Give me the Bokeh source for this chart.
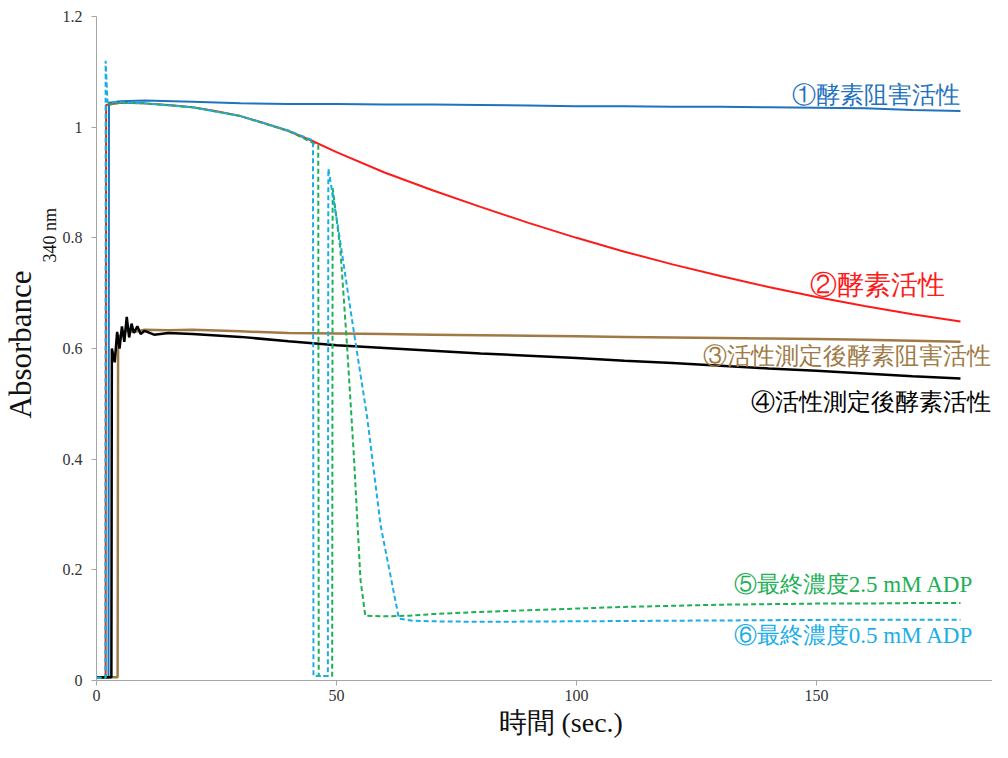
from bokeh.plotting import figure
from bokeh.models import Label, Range1d, FixedTicker, Title
from bokeh.embed import file_html
from bokeh.resources import INLINE

# ---------------- data ----------------
x_ticks = [0, 50, 100, 150]
y_ticks = [0, 0.2, 0.4, 0.6, 0.8, 1.0, 1.2]
y_tick_labels = ["0", "0.2", "0.4", "0.6", "0.8", "1", "1.2"]

# (1) enzyme inhibition activity
t1 = [0, 2.5, 2.6, 5, 10, 20, 30, 40, 50, 60, 70, 80, 90, 100, 110, 120, 130, 140, 150, 160, 170, 180]
a1 = [0.005, 0.005, 1.044, 1.047, 1.048, 1.046, 1.043, 1.042, 1.042, 1.041, 1.041, 1.040, 1.039,
      1.038, 1.038, 1.037, 1.037, 1.036, 1.035, 1.034, 1.031, 1.029]

# (2) enzyme activity
t2 = [0, 1.9, 2.0, 5, 10, 15, 20, 25, 30, 35, 40, 45, 50, 60, 70, 80, 90, 100, 110, 120, 130,
      140, 150, 160, 170, 180]
a2 = [0.005, 0.005, 1.040, 1.044, 1.043, 1.040, 1.036, 1.029, 1.020, 1.007, 0.993, 0.975, 0.955,
      0.918, 0.886, 0.856, 0.827, 0.800, 0.775, 0.752, 0.731, 0.711, 0.693, 0.677, 0.662, 0.649]

# (3) inhibition activity after measurement
t3 = [0, 4.4, 4.5, 6, 8, 10, 15, 20, 30, 40, 50, 60, 70, 80, 90, 100, 110, 120, 130, 140, 150,
      160, 170, 180]
a3 = [0.006, 0.006, 0.620, 0.632, 0.630, 0.634, 0.633, 0.634, 0.631, 0.628, 0.627, 0.626, 0.625,
      0.624, 0.623, 0.622, 0.621, 0.620, 0.619, 0.618, 0.617, 0.616, 0.614, 0.612]

# (4) enzyme activity after measurement
t4 = [0, 3.1, 3.2, 3.8, 4.3, 4.8, 5.3, 5.8, 6.3, 6.8, 7.3, 7.8, 8.5, 9.2, 10, 12, 15, 20, 30, 40,
      50, 60, 70, 80, 90, 100, 110, 120, 130, 140, 150, 160, 170, 180]
a4 = [0.006, 0.006, 0.600, 0.575, 0.630, 0.600, 0.640, 0.612, 0.657, 0.620, 0.645, 0.628, 0.640,
      0.626, 0.632, 0.625, 0.628, 0.626, 0.621, 0.613, 0.606, 0.601, 0.596, 0.591, 0.587, 0.583,
      0.578, 0.574, 0.569, 0.564, 0.560, 0.555, 0.550, 0.546]

# (5) final concentration 2.5 mM ADP
t5 = [0, 1.9, 2.0, 5, 10, 20, 30, 40, 46.2, 46.3, 49.1, 49.2, 50.8, 52.2, 53.6, 55.0, 56.0, 60,
      65, 70, 80, 90, 100, 110, 120, 130, 140, 150, 160, 170, 180]
a5 = [0.005, 0.005, 1.040, 1.044, 1.043, 1.036, 1.020, 0.993, 0.967, 0.008, 0.008, 0.890, 0.780,
      0.605, 0.409, 0.182, 0.117, 0.116, 0.117, 0.120, 0.124, 0.127, 0.130, 0.133, 0.135, 0.137,
      0.138, 0.139, 0.139, 0.140, 0.140]

# (6) final concentration 0.5 mM ADP
t6 = [0, 1.9, 1.9, 2.3, 5, 10, 20, 30, 40, 45.1, 45.2, 48.2, 48.3, 50.2, 53.6, 56.4, 59.2, 63.0,
      66, 70, 80, 100, 120, 140, 160, 180]
a6 = [0.005, 0.005, 1.120, 1.045, 1.045, 1.043, 1.036, 1.020, 0.994, 0.976, 0.008, 0.008, 0.925,
      0.826, 0.631, 0.475, 0.280, 0.112, 0.108, 0.107, 0.106, 0.107, 0.108, 0.109, 0.110, 0.110]

series_labels = ["①酵素阻害活性", "②酵素活性", "③活性測定後酵素阻害活性",
                 "④活性測定後酵素活性", "⑤最終濃度2.5 mM ADP", "⑥最終濃度0.5 mM ADP"]
label_x = [180.0, 176.7, 186.4, 186.4, 182.7, 182.7]
label_y = [1.059, 0.714, 0.587, 0.504, 0.1735, 0.0813]

# ---------------- style ----------------
C_BLUE = "#1F72BE"
C_RED = "#FF1A1A"
C_BROWN = "#A07A46"
C_BLACK = "#000000"
C_GREEN = "#1DB055"
C_LBLUE = "#1AAEE8"
SERIF = "Liberation Serif"

p = figure(width=992, height=742, output_backend="svg", toolbar_location=None,
           x_range=Range1d(0, 186.67), y_range=Range1d(0, 1.2),
           min_border_left=96, min_border_right=0, min_border_top=16, min_border_bottom=62)
p.outline_line_color = None
p.grid.grid_line_color = None
p.background_fill_color = "white"
p.border_fill_color = "white"

for ax in (p.xaxis[0], p.yaxis[0]):
    ax.axis_line_color = "#A6A6A6"
    ax.major_tick_line_color = "#A6A6A6"
    ax.minor_tick_line_color = None
    ax.major_tick_out = 5
    ax.major_tick_in = 0
    ax.major_label_text_font = SERIF
    ax.major_label_text_font_size = "16px"
    ax.major_label_text_color = "#333333"
    ax.axis_label = None

p.xaxis[0].ticker = FixedTicker(ticks=x_ticks)
p.yaxis[0].ticker = FixedTicker(ticks=y_ticks)
p.yaxis[0].major_label_overrides = {v: s for v, s in zip(y_ticks, y_tick_labels)}
p.yaxis[0].major_label_standoff = 9
p.xaxis[0].major_label_standoff = 4

p.line(t1, a1, line_color=C_BLUE, line_width=2)
p.line(t2, a2, line_color=C_RED, line_width=2)
p.line(t3, a3, line_color=C_BROWN, line_width=2.5)
p.line(t4, a4, line_color=C_BLACK, line_width=2.5)
p.line(t5, a5, line_color=C_GREEN, line_width=2, line_dash="5 3")
p.line(t6, a6, line_color=C_LBLUE, line_width=2, line_dash="5 3")

colors = [C_BLUE, C_RED, C_BROWN, C_BLACK, C_GREEN, C_LBLUE]
sizes = ["23.5px", "27px", "24px", "24px", "23px", "23px"]
for s, x, y, c, fs in zip(series_labels, label_x, label_y, colors, sizes):
    p.add_layout(Label(x=x, y=y, text=s, text_color=c, text_font=SERIF, text_font_size=fs,
                       text_align="right", text_baseline="middle"))

# axis titles (as side titles so they sit outside the frame)
p.add_layout(Title(text="340 nm", text_font=SERIF, text_font_size="18px", text_color="#111111",
                   text_font_style="normal", align="left", offset=418, standoff=0), "left")
p.add_layout(Title(text="Absorbance", text_font=SERIF, text_font_size="31px", text_color="#111111",
                   text_font_style="normal", align="left", offset=262, standoff=0), "left")
p.add_layout(Title(text="時間 (sec.)", text_font=SERIF, text_font_size="28px", text_color="#111111",
                   text_font_style="normal", align="left", offset=402, standoff=2), "below")

open("out.html", "w").write(file_html(p, INLINE))
